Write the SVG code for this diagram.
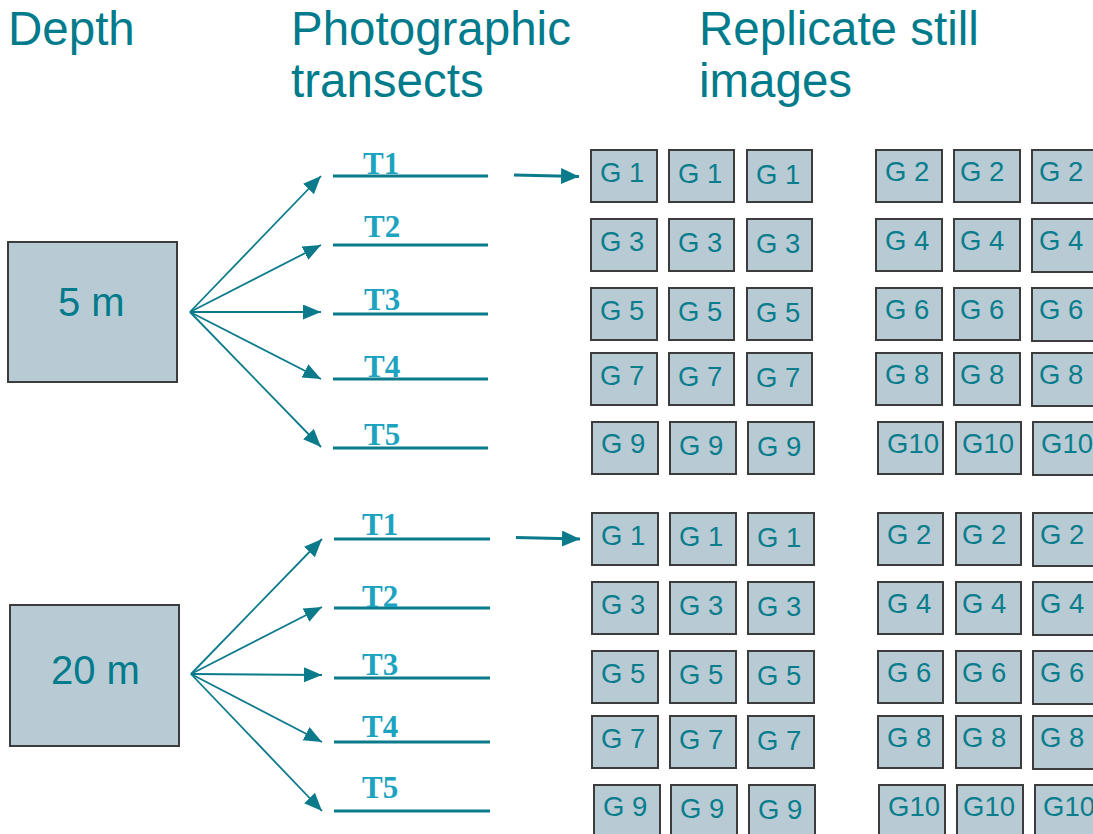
<svg xmlns="http://www.w3.org/2000/svg" width="1093" height="834" viewBox="0 0 1093 834">
  <style>
    .hdr { font-family: "Liberation Sans", Arial, sans-serif; font-size: 47.5px; fill: #007b8c; }
    .depth rect { fill: #b8cbd5; stroke: #3c3c3c; stroke-width: 2; }
    .depth text { font-family: "Liberation Sans", Arial, sans-serif; font-size: 40px; fill: #007b8c; }
    .tline { stroke: #0b7a8b; stroke-width: 3.2; }
    .tlab { font-family: "Liberation Serif", "Times New Roman", serif; font-weight: bold; font-size: 31px; fill: #1ba3bf; }
    .img rect { fill: #b8cbd5; stroke: #3c3c3c; stroke-width: 2; }
    .img text { font-family: "Liberation Sans", Arial, sans-serif; font-size: 27.5px; fill: #0a7d8c; }
    .fan { stroke: #0b7a8b; stroke-width: 1.8; fill: none; marker-end: url(#headS); }
    .lead { stroke: #0b7a8b; stroke-width: 3; fill: none; marker-end: url(#headL); }
  </style>
  <defs>
    <marker id="headS" markerUnits="userSpaceOnUse" markerWidth="19" markerHeight="16" refX="18" refY="7.5" orient="auto">
      <path d="M0,0 L18,7.5 L0,15 z" fill="#0b7a8b"/>
    </marker>
    <marker id="headL" markerUnits="userSpaceOnUse" markerWidth="19" markerHeight="17" refX="18" refY="8" orient="auto">
      <path d="M0,0 L18,8 L0,16 z" fill="#0b7a8b"/>
    </marker>
  </defs>

  <rect width="1093" height="834" fill="#ffffff"/>

  <!-- column headings -->
  <g id="headings">
    <text class="hdr" x="8" y="45">Depth</text>
    <text class="hdr" x="291" y="45">Photographic</text>
    <text class="hdr" x="291" y="97">transects</text>
    <text class="hdr" x="699" y="45">Replicate still</text>
    <text class="hdr" x="699" y="97">images</text>
  </g>

  <!-- depth nodes -->
  <g id="depth-5m" class="depth">
    <rect x="8" y="242" width="169" height="140"/>
    <text x="58" y="316">5 m</text>
  </g>
  <g id="depth-20m" class="depth">
    <rect x="10" y="605" width="169" height="141"/>
    <text x="51" y="684">20 m</text>
  </g>

  <!-- transects, 5 m -->
  <g id="transects-5m">
    <line class="tline" x1="333" y1="176" x2="488" y2="176"/>
    <line class="tline" x1="333" y1="245" x2="488" y2="245"/>
    <line class="tline" x1="333" y1="314" x2="488" y2="314"/>
    <line class="tline" x1="333" y1="379" x2="488" y2="379"/>
    <line class="tline" x1="333" y1="448" x2="488" y2="448"/>
    <text class="tlab" x="363" y="174">T1</text>
    <text class="tlab" x="364" y="237">T2</text>
    <text class="tlab" x="364" y="310">T3</text>
    <text class="tlab" x="364" y="377">T4</text>
    <text class="tlab" x="364" y="445">T5</text>
  </g>

  <!-- transects, 20 m -->
  <g id="transects-20m">
    <line class="tline" x1="334" y1="539" x2="490" y2="539"/>
    <line class="tline" x1="334" y1="608" x2="490" y2="608"/>
    <line class="tline" x1="334" y1="678" x2="490" y2="678"/>
    <line class="tline" x1="334" y1="742" x2="490" y2="742"/>
    <line class="tline" x1="334" y1="811" x2="490" y2="811"/>
    <text class="tlab" x="362" y="535">T1</text>
    <text class="tlab" x="362" y="607">T2</text>
    <text class="tlab" x="362" y="675">T3</text>
    <text class="tlab" x="362" y="737">T4</text>
    <text class="tlab" x="362" y="798">T5</text>
  </g>

  <!-- connectors -->
  <g id="connectors">
    <line class="fan" x1="190" y1="312" x2="321" y2="176"/>
    <line class="fan" x1="190" y1="312" x2="321" y2="245"/>
    <line class="fan" x1="190" y1="312" x2="321" y2="312"/>
    <line class="fan" x1="190" y1="312" x2="321" y2="379"/>
    <line class="fan" x1="190" y1="312" x2="321" y2="447"/>
    <line class="fan" x1="191" y1="674" x2="322" y2="539"/>
    <line class="fan" x1="191" y1="674" x2="322" y2="607"/>
    <line class="fan" x1="191" y1="674" x2="322" y2="675"/>
    <line class="fan" x1="191" y1="674" x2="322" y2="742"/>
    <line class="fan" x1="191" y1="674" x2="322" y2="811"/>
    <line class="lead" x1="514" y1="175" x2="579" y2="176.5"/>
    <line class="lead" x1="516" y1="537.5" x2="580" y2="539"/>
  </g>

  <!-- replicate images, 5 m -->
  <g id="images-5m" class="img">
    <g id="g5-r1">
      <rect x="591" y="150" width="66" height="52"/><text x="600" y="182">G 1</text>
      <rect x="669" y="150" width="65" height="52"/><text x="678" y="183">G 1</text>
      <rect x="747" y="150" width="65" height="52"/><text x="756" y="184">G 1</text>
      <rect x="876" y="150" width="66" height="52"/><text x="885" y="181">G 2</text>
      <rect x="954" y="150" width="66" height="52"/><text x="960" y="181">G 2</text>
      <rect x="1032" y="150" width="66" height="53"/><text x="1039" y="181">G 2</text>
    </g>
    <g id="g5-r2">
      <rect x="591" y="219" width="66" height="52"/><text x="600" y="251">G 3</text>
      <rect x="669" y="219" width="65" height="52"/><text x="678" y="252">G 3</text>
      <rect x="747" y="219" width="65" height="52"/><text x="756" y="253">G 3</text>
      <rect x="876" y="219" width="66" height="52"/><text x="885" y="250">G 4</text>
      <rect x="954" y="219" width="66" height="52"/><text x="960" y="250">G 4</text>
      <rect x="1032" y="219" width="66" height="53"/><text x="1039" y="250">G 4</text>
    </g>
    <g id="g5-r3">
      <rect x="591" y="288" width="66" height="52"/><text x="600" y="320">G 5</text>
      <rect x="669" y="288" width="65" height="52"/><text x="678" y="321">G 5</text>
      <rect x="747" y="288" width="65" height="52"/><text x="756" y="322">G 5</text>
      <rect x="876" y="288" width="66" height="52"/><text x="885" y="319">G 6</text>
      <rect x="954" y="288" width="66" height="52"/><text x="960" y="319">G 6</text>
      <rect x="1032" y="288" width="66" height="53"/><text x="1039" y="319">G 6</text>
    </g>
    <g id="g5-r4">
      <rect x="591" y="353" width="66" height="52"/><text x="600" y="385">G 7</text>
      <rect x="669" y="353" width="65" height="52"/><text x="678" y="386">G 7</text>
      <rect x="747" y="353" width="65" height="52"/><text x="756" y="387">G 7</text>
      <rect x="876" y="353" width="66" height="52"/><text x="885" y="384">G 8</text>
      <rect x="954" y="353" width="66" height="52"/><text x="960" y="384">G 8</text>
      <rect x="1032" y="353" width="66" height="53"/><text x="1039" y="384">G 8</text>
    </g>
    <g id="g5-r5">
      <rect x="592" y="422" width="66" height="52"/><text x="601" y="453">G 9</text>
      <rect x="670" y="422" width="66" height="52"/><text x="679" y="455">G 9</text>
      <rect x="748" y="422" width="66" height="52"/><text x="757" y="456">G 9</text>
      <rect x="878" y="422" width="65" height="52"/><text x="887" y="453">G10</text>
      <rect x="956" y="422" width="65" height="52"/><text x="962" y="453">G10</text>
      <rect x="1033" y="422" width="66" height="53"/><text x="1041" y="453">G10</text>
    </g>
  </g>

  <!-- replicate images, 20 m -->
  <g id="images-20m" class="img">
    <g id="g20-r1">
      <rect x="592" y="513" width="66" height="52"/><text x="601" y="545">G 1</text>
      <rect x="670" y="513" width="66" height="52"/><text x="679" y="546">G 1</text>
      <rect x="748" y="513" width="66" height="52"/><text x="757" y="547">G 1</text>
      <rect x="878" y="513" width="65" height="52"/><text x="887" y="544">G 2</text>
      <rect x="956" y="513" width="65" height="52"/><text x="962" y="544">G 2</text>
      <rect x="1033" y="513" width="66" height="53"/><text x="1040" y="544">G 2</text>
    </g>
    <g id="g20-r2">
      <rect x="592" y="582" width="66" height="52"/><text x="601" y="614">G 3</text>
      <rect x="670" y="582" width="66" height="52"/><text x="679" y="615">G 3</text>
      <rect x="748" y="582" width="66" height="52"/><text x="757" y="616">G 3</text>
      <rect x="878" y="582" width="65" height="52"/><text x="887" y="613">G 4</text>
      <rect x="956" y="582" width="65" height="52"/><text x="962" y="613">G 4</text>
      <rect x="1033" y="582" width="66" height="53"/><text x="1040" y="613">G 4</text>
    </g>
    <g id="g20-r3">
      <rect x="592" y="651" width="66" height="52"/><text x="601" y="683">G 5</text>
      <rect x="670" y="651" width="66" height="52"/><text x="679" y="684">G 5</text>
      <rect x="748" y="651" width="66" height="52"/><text x="757" y="685">G 5</text>
      <rect x="878" y="651" width="65" height="52"/><text x="887" y="682">G 6</text>
      <rect x="956" y="651" width="65" height="52"/><text x="962" y="682">G 6</text>
      <rect x="1033" y="651" width="66" height="53"/><text x="1040" y="682">G 6</text>
    </g>
    <g id="g20-r4">
      <rect x="592" y="716" width="66" height="52"/><text x="601" y="748">G 7</text>
      <rect x="670" y="716" width="66" height="52"/><text x="679" y="749">G 7</text>
      <rect x="748" y="716" width="66" height="52"/><text x="757" y="750">G 7</text>
      <rect x="878" y="716" width="65" height="52"/><text x="887" y="747">G 8</text>
      <rect x="956" y="716" width="65" height="52"/><text x="962" y="747">G 8</text>
      <rect x="1033" y="716" width="66" height="53"/><text x="1040" y="747">G 8</text>
    </g>
    <g id="g20-r5">
      <rect x="594" y="785" width="66" height="52"/><text x="603" y="816">G 9</text>
      <rect x="671" y="785" width="66" height="52"/><text x="680" y="818">G 9</text>
      <rect x="749" y="785" width="66" height="52"/><text x="758" y="819">G 9</text>
      <rect x="879" y="785" width="66" height="52"/><text x="888" y="816">G10</text>
      <rect x="957" y="785" width="66" height="52"/><text x="963" y="816">G10</text>
      <rect x="1035" y="785" width="66" height="53"/><text x="1043" y="816">G10</text>
    </g>
  </g>
</svg>
